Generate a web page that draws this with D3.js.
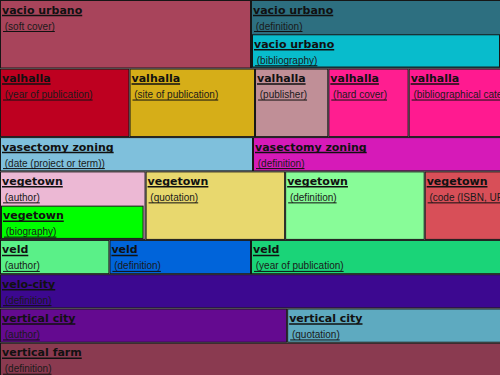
<!DOCTYPE html>
<html>
<head>
<meta charset="utf-8">
<script src="https://cdn.jsdelivr.net/npm/d3@7"></script>
<style>
  body { margin: 0; background: #fff; }
  .title { font-family: "DejaVu Sans", Verdana, sans-serif; font-size: 11px; font-weight: bold; fill: #111; }
  .sub { font-family: "Liberation Sans", Arial, sans-serif; font-size: 10px; fill: #1a1a1a; white-space: pre; }
</style>
</head>
<body>
<script>
const WIDTH = 500;
const HEIGHT = 375;

const groups = ["vacio urbano", "valhalla", "vasectomy zoning", "vegetown", "veld", "velo-city", "vertical city", "vertical farm"];

const fields = [
    ["soft cover", "definition", "bibliography"],
    ["year of publication", "site of publication", "publisher", "hard cover", "bibliographical category"],
    ["date (project or term)", "definition"],
    ["author", "biography", "quotation", "definition", "code (ISBN, UPC, etc.)"],
    ["author", "definition", "year of publication"],
    ["definition"],
    ["author", "quotation"],
    ["definition"]
];

const sizes = [
    [500, 250, 250],
    [258, 250, 146, 160, 186],
    [252, 248],
    [145, 145, 278, 278, 154],
    [109, 141, 250],
    [500],
    [286, 214],
    [500]
];

// index of the entry (same group) that an entry sits inside, -1 = none
const nestedIn = [
    [-1, -1, 1],
    [-1, -1, -1, -1, -1],
    [-1, -1],
    [-1, 0, -1, -1, -1],
    [-1, -1, -1],
    [-1],
    [-1, -1],
    [-1]
];

const colors = [
    ["#a8445b", "#2d6f80", "#08bccc"],
    ["#be0020", "#d6ae18", "#c08f97", "#ff1e90", "#ff1a90"],
    ["#7fc0dc", "#d61ab8"],
    ["#ecb8d4", "#00fe00", "#e8d86e", "#88fc98", "#d84f58"],
    ["#5af088", "#0064da", "#1ad478"],
    ["#3c0890"],
    ["#640a90", "#5eaac0"],
    ["#8a3a50"]
];

const tree = {
    name: "root",
    children: groups.map((g, i) => {
        const items = fields[i].map((f, j) => ({ group: g, field: f, size: sizes[i][j], color: colors[i][j], children: [] }));
        items.forEach((it, j) => { if (nestedIn[i][j] >= 0) items[nestedIn[i][j]].children.push(it); });
        return { name: g, children: items.filter((_, j) => nestedIn[i][j] < 0) };
    })
};

// rows stacked, entries side by side, nested entries below their parent's label
function tile(node, x0, y0, x1, y1) {
    if (node.depth === 0) d3.treemapSlice(node, x0, y0, x1, y1);
    else if (node.depth === 1) d3.treemapDice(node, x0, y0, x1, y1);
    else {
        const total = d3.sum(node.children, c => c.value);
        let y = y0;
        node.children.forEach(c => {
            c.x0 = x0; c.x1 = x1;
            c.y0 = y; c.y1 = y += (y1 - y0) * c.value / total;
        });
    }
}

const root = d3.hierarchy(tree).sum(d => d.size || 0);

d3.treemap()
    .size([WIDTH + 2, HEIGHT + 2])
    .tile(tile)
    .paddingTop(d => d.depth >= 2 ? (d.y1 - d.y0) * d.data.size / d.value : 0)
    .paddingLeft(d => d.depth >= 2 ? 1 : 0)
    .paddingRight(d => d.depth >= 2 ? 2 : 0)
    .paddingBottom(d => d.depth >= 2 ? 1 : 0)(root);

const svg = d3.select("body").append("svg").attr("width", WIDTH).attr("height", HEIGHT);

const cells = svg.selectAll("g.cell")
    .data(root.descendants().filter(d => d.depth >= 2))
    .join("g")
    .attr("class", "cell")
    .attr("transform", d => `translate(${d.x0},${d.y0})`);

cells.append("clipPath")
    .attr("id", (d, i) => "clip" + i)
    .append("rect")
    .attr("width", d => d.x1 - d.x0)
    .attr("height", d => d.y1 - d.y0);

cells.append("rect")
    .attr("x", 0.5)
    .attr("y", 0.5)
    .attr("width", d => Math.max(0, d.x1 - d.x0 - 1))
    .attr("height", d => Math.max(0, d.y1 - d.y0 - 1))
    .attr("fill", d => d.data.color)
    .attr("stroke", "#161616")
    .attr("stroke-width", 1);

const labels = cells.append("g").attr("clip-path", (d, i) => `url(#clip${i})`);

labels.append("text")
    .attr("class", "title")
    .attr("x", 2)
    .attr("y", 13.5)
    .text(d => d.data.group);

labels.append("text")
    .attr("class", "sub")
    .attr("x", 2)
    .attr("y", 29.5)
    .text(d => ` (${d.data.field})`);

// underlines
labels.each(function() {
    const g = d3.select(this);
    g.selectAll("text").each(function() {
        const t = d3.select(this);
        const len = this.getComputedTextLength();
        const y = +t.attr("y") + 2;
        g.append("line")
            .attr("x1", +t.attr("x") + (t.classed("title") ? 0 : 1))
            .attr("x2", +t.attr("x") + len)
            .attr("y1", y)
            .attr("y2", y)
            .attr("stroke", "#111")
            .attr("stroke-width", t.classed("title") ? 1.5 : 1);
    });
});
</script>
</body>
</html>
